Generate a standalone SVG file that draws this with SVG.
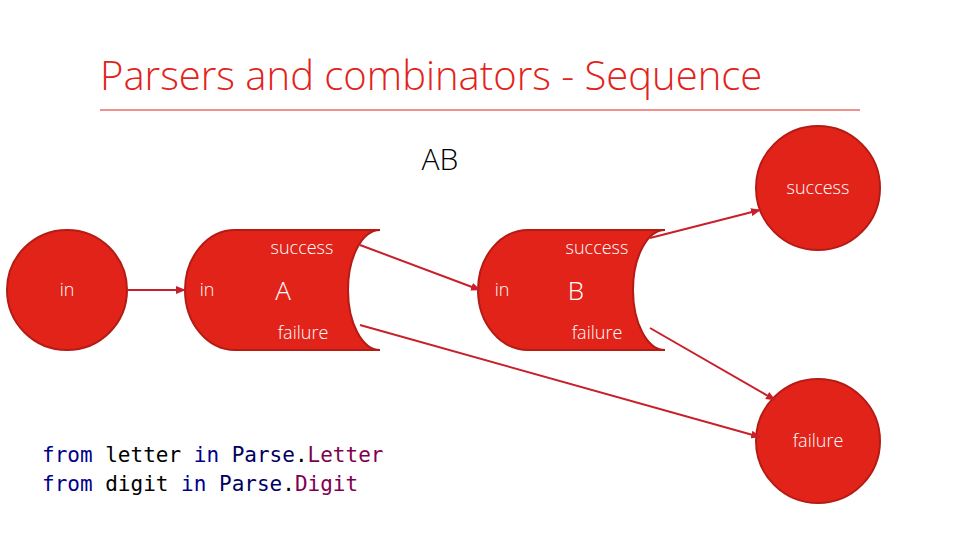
<svg xmlns="http://www.w3.org/2000/svg" width="960" height="540" viewBox="0 0 960 540">
<style>
.s{fill:#e2231a;stroke:#b51b14;stroke-width:2}
.t{font-family:"Open Sans","Liberation Sans",sans-serif;fill:#fff;font-weight:300}
.c{stroke:#c8202a;stroke-width:2;fill:none;marker-end:url(#a)}
.m{font-family:"DejaVu Sans Mono","Liberation Mono",monospace;font-size:21px}
</style>
<defs><marker id="a" markerWidth="10" markerHeight="8" refX="9" refY="4" orient="auto" markerUnits="userSpaceOnUse"><path d="M0,0L10,4L0,8Z" fill="#c8202a"/></marker></defs>
<rect width="960" height="540" fill="#fff"/>
<text x="100" y="90" font-family="Open Sans,Liberation Sans,sans-serif" font-weight="300" font-size="40" fill="#e2231a">Parsers and combinators - Sequence</text>
<line x1="100" y1="110" x2="860" y2="110" stroke="#e2231a" stroke-width="1"/>
<text x="440" y="170" text-anchor="middle" font-family="Open Sans,Liberation Sans,sans-serif" font-weight="300" font-size="30" fill="#000">AB</text>
<g id="in"><circle class="s" cx="67" cy="290" r="60"/><text class="t" x="67" y="296" font-size="18" text-anchor="middle">in</text></g>
<g id="A"><path class="s" d="M235,230L380,230A32,60 0 0 0 380,350L235,350A50,60 0 0 1 235,230Z"/>
<text class="t" x="207" y="296" font-size="18" text-anchor="middle">in</text>
<text class="t" x="302" y="254" font-size="18" text-anchor="middle">success</text>
<text class="t" x="283" y="300" font-size="26" text-anchor="middle">A</text>
<text class="t" x="303" y="339" font-size="18" text-anchor="middle">failure</text></g>
<g id="B"><path class="s" d="M528,230L665,230A32,60 0 0 0 665,350L528,350A50,60 0 0 1 528,230Z"/>
<text class="t" x="502" y="296" font-size="18" text-anchor="middle">in</text>
<text class="t" x="597" y="254" font-size="18" text-anchor="middle">success</text>
<text class="t" x="576" y="300" font-size="26" text-anchor="middle">B</text>
<text class="t" x="597" y="339" font-size="18" text-anchor="middle">failure</text></g>
<g id="success"><circle class="s" cx="818" cy="188" r="62"/><text class="t" x="818" y="194" font-size="18" text-anchor="middle">success</text></g>
<g id="failure"><circle class="s" cx="818" cy="441" r="62"/><text class="t" x="818" y="447" font-size="18" text-anchor="middle">failure</text></g>
<g id="connectors">
<path class="c" d="M127,290L185,290"/>
<path class="c" d="M360,245L480,290"/>
<path class="c" d="M360,325L760,437"/>
<path class="c" d="M650,238L760,210"/>
<path class="c" d="M650,328L775,400"/>
</g>
<text class="m" x="42" y="462"><tspan fill="#00008b">from</tspan> letter <tspan fill="#00008b">in</tspan> <tspan fill="#000060">Parse</tspan>.<tspan fill="#800050">Letter</tspan></text>
<text class="m" x="42" y="491"><tspan fill="#00008b">from</tspan> digit <tspan fill="#00008b">in</tspan> <tspan fill="#000060">Parse</tspan>.<tspan fill="#800050">Digit</tspan></text>
</svg>
